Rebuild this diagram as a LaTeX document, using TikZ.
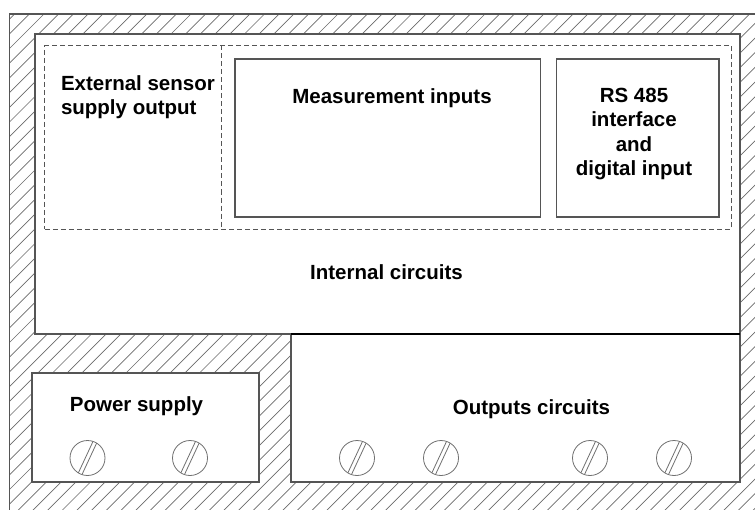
\documentclass[tikz,border=0pt]{standalone}
\usepackage{fontspec}
\setmainfont{Liberation Sans}
\definecolor{linegray}{HTML}{555555}
\definecolor{hatchgray}{HTML}{6A6A6A}
\definecolor{screwgray}{HTML}{707070}
\begin{document}
\begin{tikzpicture}[x=1bp,y=-1bp,
  box/.style={rectangle, draw=linegray, line width=1.1bp, fill=white, inner sep=0pt, outer sep=0pt},
  dashbox/.style={rectangle, draw=linegray, line width=1bp, dash pattern=on 5bp off 3bp, inner sep=0pt, outer sep=0pt},
  hatchline/.style={draw=hatchgray, line width=0.7bp},
  lbl/.style={font=\fontsize{20.5bp}{24.5bp}\selectfont\bfseries, inner sep=0pt, outer sep=0pt, text=black},
  screw/.style={circle, draw=screwgray, line width=0.8bp, minimum size=35bp, inner sep=0pt, outer sep=0pt, fill=white,
    path picture={\draw[screwgray, line width=0.8bp, shift={(path picture bounding box.center)}]
      (-6.64,18.98) -- (10.26,-17.28) (-10.26,17.28) -- (6.64,-18.98);}}
]
\clip (0,0) rectangle (755,510);
% hatching of the housing
\begin{scope}
  \clip (9.5,14) rectangle (800,540);
  \foreach \k in {0,...,95} \draw[hatchline] ({\k*14.7-526.1},540) -- ++(580,-580);
\end{scope}
% housing outline
\node[rectangle, draw=linegray, line width=1.1bp, inner sep=0pt, minimum width=790.5bp, minimum height=526bp] (outer) at (404.75,277) {};
% internal circuits
\node[box, minimum width=705bp, minimum height=300bp] (internal) at (387.5,184) {};
\node[dashbox, minimum width=686bp, minimum height=183.5bp] (dsh) at (388,137.25) {};
\draw[linegray, line width=1bp, dash pattern=on 5bp off 3bp] (221,45.5) -- (221,229);
\node[box, minimum width=305.5bp, minimum height=158bp] (meas) at (387.75,138) {};
\node[box, minimum width=162.5bp, minimum height=158bp] (rs) at (637.75,138) {};
% outputs and power supply
\node[box, minimum width=449bp, minimum height=148bp] (outputs) at (515.5,408) {};
\draw[black, line width=1.8bp] (outputs.north west) -- (outputs.north east);
\node[box, minimum width=227bp, minimum height=109bp] (power) at (145.5,427.5) {};
% screws
\node[screw] (p1) at (87.5,458) {};
\node[screw] (p2) at (190,458) {};
\node[screw] (o1) at (357,458) {};
\node[screw] (o2) at (441,458) {};
\node[screw] (o3) at (590,458) {};
\node[screw] (o4) at (674,458) {};
% labels (base anchor = baseline of the last line)
\node[lbl, anchor=base west, align=left] (lext) at (61,115) {External sensor\\supply output};
\node[lbl, anchor=base] (lmeas) at (392,103.3) {Measurement inputs};
\node[lbl, anchor=base, align=center] (lrs) at (634,176) {RS 485\\interface\\and\\digital input};
\node[lbl, anchor=base] (lint) at (386.5,280) {Internal circuits};
\node[lbl, anchor=base] (lout) at (531.5,414) {Outputs circuits};
\node[lbl, anchor=base] (lpow) at (136.5,411) {Power supply};
\end{tikzpicture}
\end{document}
